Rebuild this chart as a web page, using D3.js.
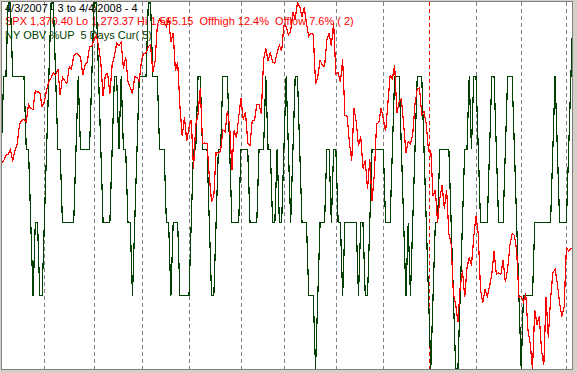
<!DOCTYPE html>
<html><head><meta charset="utf-8">
<script src="https://cdn.jsdelivr.net/npm/d3@7"></script>
<style>
html,body{margin:0;padding:0;background:#d4d0c8;}
svg{display:block;}
text{font-family:"Liberation Sans",Arial,sans-serif;font-size:11px;white-space:pre;}
</style></head><body>
<svg id="chart" width="577" height="373"></svg>
<script>
// ---- data ----
const spx = [
1437.77,1439.37,1443.76,1444.61,1448.39,1438.87,1447.80,1452.85,1468.33,1471.48,1472.50,1470.73,1484.35,1480.93,1480.41,1495.42,1494.25,1494.07,1482.37,
1486.30,1495.92,1502.39,1505.62,1509.48,1507.72,1512.58,1491.47,1505.85,1503.15,1501.19,1514.14,1512.75,1522.75,1525.10,1524.12,1522.28,1507.51,1515.73,1518.11,1530.23,1530.62,
1536.34,1539.18,1530.95,1517.38,1490.72,1507.67,1509.12,1493.00,1515.67,1522.97,1532.91,1531.05,1533.70,1512.84,1522.19,1502.56,1497.74,1492.89,1506.34,1505.71,1503.35,
1519.43,1524.87,1525.40,1530.44,1531.85,1510.12,1518.76,1547.70,1552.50,1549.52,1549.37,1546.17,1553.08,1534.10,1541.57,1511.04,1518.09,1482.66,1458.95,1473.91,1455.27,
1465.81,1472.20,1433.06,1467.67,1476.71,1497.49,1453.09,1453.64,1452.92,1426.54,1406.70,1411.27,1445.94,1445.55,1447.12,1464.07,1462.50,1479.37,1466.79,1432.36,1463.76,1457.64,1473.99,
1489.42,1472.29,1478.55,1453.55,1451.70,1471.49,1471.56,1483.95,1484.25,1476.65,1519.78,1529.03,1518.75,1525.75,1517.73,1517.21,1525.42,1531.38,1526.75,
1547.04,1546.63,1539.59,1542.84,1557.59,1552.58,1565.15,1562.47,1554.41,1561.80,1548.71,1538.53,1541.24,1540.08,1500.63,1506.33,1519.59,1515.88,1514.40,1535.28,1540.98,1531.02,1549.38,
1508.44,1509.65,1502.17,1520.27,1475.62,1474.77,1453.70,1439.18,1481.05,1470.58,1451.15,1458.74,1433.27,1439.70,1416.77,1440.70,1407.22,1428.23,1469.02,1469.72,1481.14,
1472.42,1462.79,1485.01,1507.34,1504.66,1515.96,1477.65,1486.59,1488.41,1467.95,1445.90,1454.98,1453.00,1460.12,1484.46,1496.45,1497.66,1476.27,1478.49,1468.36,
1447.16,1447.16,1411.63,1416.18,1390.19,1409.13,1420.33,1401.02,1416.25,1380.95,1373.20,1333.25,1325.19,1310.50,1338.60,1352.07,1330.61,1353.96,1362.30,1355.81,1378.55,
1395.42,1380.82,1336.64,1326.45,1336.91,1331.29,1339.13,1348.86,1367.21,1348.86,1349.99,1348.78,1360.03,1342.53,1353.11,1371.80,1381.29,1380.02,1367.68,1330.63,
1331.34,1326.75,1333.70,1304.34,1293.37,1273.37,1320.65,1308.77,1315.48,1288.14,1276.60,1330.74,1298.42,1329.51,1349.88,1352.99,1341.13,1325.76,1315.22,1322.70,
1370.18,1367.53,1369.31,1370.40
];
const obvUp = [
3,4,4,5,5,4,4,4,4,4,4,3,3,2,1,2,2,1,1,2,
3,4,5,5,4,3,3,2,2,2,2,2,2,3,4,3,3,3,3,3,
4,5,5,4,3,2,2,2,2,3,4,4,3,4,3,3,2,2,1,2,
3,4,4,4,4,5,5,4,4,4,3,3,3,2,2,1,2,2,2,1,
1,1,1,1,2,3,3,4,4,3,3,3,2,1,1,2,3,3,4,4,
4,3,2,2,2,2,3,3,3,3,2,2,2,2,3,3,3,4,3,3,
2,2,3,2,2,3,4,3,2,3,4,4,3,2,2,2,1,1,1,0,
1,2,2,2,3,3,2,3,3,2,2,1,2,2,2,2,2,2,1,2,
2,1,1,2,3,3,3,3,3,3,2,2,2,3,4,4,4,3,2,1,
2,1,2,3,4,4,4,3,2,1,0,1,2,2,3,3,3,3,3,2,
1,0,0,1,2,3,3,4,3,4,4,3,2,2,2,2,3,4,4,3,
2,2,2,3,4,4,4,3,2,1,0,1,1,1,1,1,2,2,2,2,
2,2,2,2,3,4,3,2,2,2,2,3,4,5
];
const monthStartIdx = [19,41,62,83,106,125,148,169,189,210,230,250];
const yearStartIdx = 189;
const titleText = "4/3/2007 - 3 to 4/4/2008 - 4";
const spxText = "SPX 1,370.40 Lo 1,273.37 Hi 1,565.15  Offhigh 12.4%  Offlow 7.6% ( 2)";
const obvText = "NY OBV %UP  5 Days Cur( 5)";
const spxLo = 1273.37, spxHi = 1565.15;
const obvMin = 0, obvMax = 5;

// ---- drawing ----
const W = 577, H = 373;
const plot = {x0: 2, y0: 2, x1: 572, y1: 369};
const svg = d3.select("#chart");

svg.append("rect").attr("x",0).attr("y",0).attr("width",W).attr("height",H).attr("fill","#d4d0c8");
svg.append("rect").attr("x",plot.x0).attr("y",plot.y0)
  .attr("width",plot.x1-plot.x0).attr("height",plot.y1-plot.y0).attr("fill","#ffffff");
svg.append("rect").attr("x",plot.x0-0.5).attr("y",plot.y0-0.5)
  .attr("width",plot.x1-plot.x0+1).attr("height",plot.y1-plot.y0+1)
  .attr("fill","none").attr("stroke","#808080").attr("stroke-width",1);

svg.append("clipPath").attr("id","clip").append("rect")
  .attr("x",plot.x0).attr("y",plot.y0).attr("width",plot.x1-plot.x0).attr("height",plot.y1-plot.y0);

const n = spx.length;
const x = d3.scaleLinear().domain([0, n-1]).range([1.4, 1.4 + (n-1)*2.26]);
const ySpx = d3.scaleLinear().domain([spxLo, spxHi]).range([369, 3]);
const yObv = d3.scaleLinear().domain([obvMin, obvMax]).range([369, 3]);

const g = svg.append("g").attr("clip-path","url(#clip)");

g.selectAll("line.month").data(monthStartIdx).enter().append("line")
  .attr("class","month")
  .attr("x1", d => Math.round(x(d)) + 0.5).attr("x2", d => Math.round(x(d)) + 0.5)
  .attr("y1", plot.y0).attr("y2", plot.y1)
  .attr("stroke", d => d === yearStartIdx ? "#ff0000" : "#808080")
  .attr("stroke-width", 1)
  .attr("stroke-dasharray", "4,3")
  .attr("shape-rendering","crispEdges");

const tg = svg.append("g");
tg.append("text").attr("x",5).attr("y",11.5).attr("fill","#000000").text(titleText);
tg.append("text").attr("x",5).attr("y",25).attr("fill","#ff0000").text(spxText);
tg.append("text").attr("x",5).attr("y",38.5).attr("fill","#004000").text(obvText);

const lineSpx = d3.line().x((d,i) => x(i)).y(d => ySpx(d));
const lineObv = d3.line().x((d,i) => x(i)).y(d => yObv(d));

const lg = svg.append("g").attr("clip-path","url(#clip)");
lg.append("path").datum(obvUp).attr("d", lineObv)
  .attr("fill","none").attr("stroke","#004000").attr("stroke-width",1.2)
  .attr("shape-rendering","crispEdges");
lg.append("path").datum(spx).attr("d", lineSpx)
  .attr("fill","none").attr("stroke","#ff0000").attr("stroke-width",1.2)
  .attr("shape-rendering","crispEdges");
</script>
</body></html>
